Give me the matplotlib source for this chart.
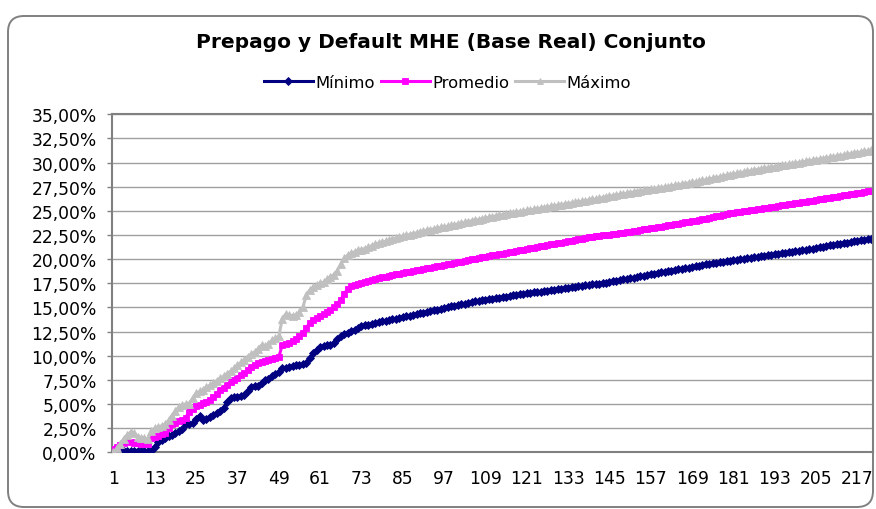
import matplotlib
matplotlib.use("Agg")
import matplotlib.pyplot as plt
from matplotlib.patches import FancyBboxPatch
from matplotlib.ticker import FixedLocator, FixedFormatter

title = "Prepago y Default MHE (Base Real) Conjunto"
series_names = ["Mínimo", "Promedio", "Máximo"]

# values in percent, periods 1..221
minimo = [
    0.00, 0.00, 0.05, 0.10, 0.12, 0.15, 0.15, 0.15, 0.15, 0.15,
    0.15, 0.15, 0.60, 1.10, 1.30, 1.50, 1.65, 1.80, 1.95, 2.20,
    2.40, 2.95, 2.90, 3.00, 3.50, 3.75, 3.30, 3.40, 3.70, 3.90,
    4.10, 4.30, 4.60, 5.20, 5.60, 5.75, 5.70, 5.80, 5.90, 6.30,
    6.80, 6.85, 6.90, 7.20, 7.50, 7.55, 7.90, 8.10, 8.30, 8.70,
    8.75, 8.85, 8.90, 9.00, 9.05, 9.10, 9.20, 9.80, 10.30, 10.60,
    10.90, 11.00, 11.10, 11.15, 11.30, 11.70, 12.00, 12.20, 12.40, 12.55,
    12.70, 12.90, 13.05, 13.15, 13.20, 13.30, 13.40, 13.45, 13.55, 13.60,
    13.70, 13.80, 13.85, 13.95, 14.00, 14.08, 14.15, 14.25, 14.30, 14.38,
    14.45, 14.55, 14.60, 14.70, 14.78, 14.85, 14.95, 15.02, 15.10, 15.18,
    15.25, 15.32, 15.40, 15.48, 15.55, 15.62, 15.70, 15.75, 15.80, 15.85,
    15.92, 15.98, 16.02, 16.08, 16.12, 16.18, 16.25, 16.30, 16.35, 16.40,
    16.45, 16.50, 16.55, 16.60, 16.65, 16.70, 16.72, 16.78, 16.82, 16.88,
    16.92, 16.98, 17.02, 17.08, 17.12, 17.18, 17.22, 17.28, 17.32, 17.38,
    17.42, 17.45, 17.52, 17.58, 17.65, 17.72, 17.78, 17.85, 17.90, 17.98,
    18.05, 18.10, 18.18, 18.25, 18.30, 18.38, 18.45, 18.50, 18.58, 18.62,
    18.68, 18.75, 18.82, 18.88, 18.95, 19.00, 19.08, 19.12, 19.20, 19.25,
    19.32, 19.38, 19.45, 19.50, 19.58, 19.62, 19.70, 19.75, 19.80, 19.85,
    19.90, 19.95, 20.00, 20.05, 20.10, 20.15, 20.20, 20.25, 20.30, 20.35,
    20.40, 20.45, 20.50, 20.55, 20.60, 20.65, 20.70, 20.75, 20.80, 20.85,
    20.92, 20.98, 21.05, 21.10, 21.18, 21.22, 21.30, 21.35, 21.42, 21.48,
    21.55, 21.60, 21.68, 21.72, 21.80, 21.85, 21.90, 21.95, 22.00, 22.05,
    22.10,
]

promedio = [
    0.30, 0.50, 0.75, 1.00, 1.20, 1.10, 1.00, 0.95, 0.90, 0.90,
    0.88, 1.50, 1.60, 1.70, 1.85, 2.05, 2.50, 2.90, 3.00, 3.20,
    3.35, 3.60, 4.20, 4.50, 4.75, 4.90, 5.10, 5.25, 5.45, 5.70,
    6.00, 6.40, 6.70, 7.00, 7.25, 7.45, 7.70, 8.00, 8.25, 8.55,
    8.80, 9.00, 9.20, 9.40, 9.50, 9.60, 9.70, 9.80, 9.85, 11.10,
    11.25, 11.35, 11.50, 11.70, 12.00, 12.40, 12.90, 13.40, 13.70, 13.90,
    14.10, 14.30, 14.50, 14.75, 15.00, 15.40, 15.80, 16.40, 16.90, 17.20,
    17.35, 17.45, 17.55, 17.65, 17.75, 17.85, 17.95, 18.05, 18.12, 18.20,
    18.28, 18.35, 18.42, 18.50, 18.58, 18.65, 18.72, 18.80, 18.85, 18.92,
    18.98, 19.05, 19.10, 19.18, 19.25, 19.30, 19.38, 19.45, 19.52, 19.60,
    19.68, 19.75, 19.82, 19.90, 19.98, 20.05, 20.12, 20.20, 20.25, 20.32,
    20.38, 20.45, 20.52, 20.58, 20.65, 20.72, 20.78, 20.85, 20.92, 20.98,
    21.05, 21.12, 21.18, 21.25, 21.32, 21.38, 21.45, 21.52, 21.58, 21.65,
    21.72, 21.78, 21.85, 21.92, 21.98, 22.05, 22.12, 22.18, 22.25, 22.32,
    22.38, 22.42, 22.48, 22.50, 22.55, 22.58, 22.63, 22.68, 22.73, 22.80,
    22.85, 22.90, 22.96, 23.02, 23.08, 23.14, 23.20, 23.26, 23.32, 23.38,
    23.44, 23.50, 23.56, 23.62, 23.68, 23.74, 23.80, 23.86, 23.92, 23.98,
    24.05, 24.12, 24.20, 24.27, 24.35, 24.42, 24.50, 24.58, 24.66, 24.74,
    24.80, 24.86, 24.92, 24.97, 25.02, 25.08, 25.13, 25.18, 25.24, 25.29,
    25.34, 25.40, 25.45, 25.50, 25.56, 25.61, 25.66, 25.72, 25.77, 25.82,
    25.88, 25.94, 26.00, 26.06, 26.12, 26.18, 26.24, 26.30, 26.36, 26.42,
    26.48, 26.54, 26.60, 26.66, 26.72, 26.78, 26.84, 26.90, 26.96, 27.02,
    27.08,
]

maximo = [
    0.00, 0.40, 0.90, 1.40, 1.80, 2.10, 2.00, 1.60, 1.50, 1.45,
    1.40, 2.20, 2.50, 2.60, 2.75, 2.90, 3.30, 3.80, 4.30, 4.70,
    4.90, 5.00, 5.05, 5.60, 6.10, 6.30, 6.50, 6.75, 6.95, 7.15,
    7.40, 7.65, 7.90, 8.15, 8.40, 8.70, 9.00, 9.30, 9.60, 9.90,
    10.15, 10.40, 10.70, 11.10, 11.00, 11.20, 11.60, 11.80, 12.00, 13.80,
    14.30, 14.20, 14.15, 14.20, 14.50, 15.00, 16.30, 16.80, 17.10, 17.30,
    17.50, 17.60, 17.90, 18.20, 18.40, 18.80, 19.50, 20.10, 20.40, 20.60,
    20.75, 20.90, 21.00, 21.10, 21.25, 21.40, 21.55, 21.65, 21.75, 21.85,
    21.95, 22.05, 22.15, 22.25, 22.35, 22.45, 22.55, 22.65, 22.72, 22.80,
    22.90, 22.98, 23.05, 23.12, 23.20, 23.28, 23.35, 23.42, 23.50, 23.55,
    23.65, 23.70, 23.80, 23.88, 23.95, 24.05, 24.10, 24.18, 24.25, 24.32,
    24.40, 24.48, 24.55, 24.62, 24.68, 24.74, 24.80, 24.86, 24.92, 24.98,
    25.05, 25.10, 25.16, 25.22, 25.28, 25.34, 25.40, 25.46, 25.52, 25.58,
    25.64, 25.70, 25.76, 25.82, 25.88, 25.94, 26.00, 26.06, 26.12, 26.18,
    26.25, 26.30, 26.38, 26.45, 26.50, 26.58, 26.62, 26.70, 26.75, 26.82,
    26.88, 26.95, 27.00, 27.08, 27.12, 27.20, 27.25, 27.30, 27.35, 27.40,
    27.46, 27.52, 27.58, 27.64, 27.70, 27.76, 27.82, 27.88, 27.94, 28.00,
    28.08, 28.15, 28.22, 28.30, 28.37, 28.44, 28.52, 28.60, 28.67, 28.74,
    28.82, 28.88, 28.95, 29.02, 29.08, 29.15, 29.22, 29.28, 29.35, 29.40,
    29.47, 29.52, 29.58, 29.64, 29.70, 29.76, 29.82, 29.88, 29.94, 30.00,
    30.06, 30.12, 30.18, 30.24, 30.30, 30.36, 30.42, 30.48, 30.54, 30.60,
    30.66, 30.72, 30.78, 30.84, 30.90, 30.96, 31.02, 31.08, 31.15, 31.22,
    31.30,
]

periods = list(range(1, len(minimo) + 1))
x_tick_labels = ["1", "13", "25", "37", "49", "61", "73", "85", "97", "109",
                 "121", "133", "145", "157", "169", "181", "193", "205", "217"]
y_tick_values = [0, 2.5, 5, 7.5, 10, 12.5, 15, 17.5, 20, 22.5, 25, 27.5, 30, 32.5, 35]
y_tick_labels = ["0,00%", "2,50%", "5,00%", "7,50%", "10,00%", "12,50%", "15,00%",
                 "17,50%", "20,00%", "22,50%", "25,00%", "27,50%", "30,00%",
                 "32,50%", "35,00%"]

W, H = 876, 510
fig = plt.figure(figsize=(W / 100, H / 100), dpi=100)
fig.patch.set_facecolor("white")

# chart area rounded border (pixel coordinates)
border = FancyBboxPatch((8, 2), 865, 491, boxstyle="round,pad=0,rounding_size=16",
                        transform=None, facecolor="none", edgecolor="#808080", linewidth=1.4)
fig.patches.append(border)

left, right, bottom, top = 111.7, 873.0, 453.3, 115.3
ax = fig.add_axes([left / W, 1 - bottom / H, (right - left) / W, (bottom - top) / H])
ax.set_facecolor("white")

styles = [
    dict(color="#000080", marker="D", markersize=4.2),
    dict(color="#FF00FF", marker="s", markersize=4.6),
    dict(color="#C0C0C0", marker="^", markersize=5.2),
]
for name, vals, st in zip(series_names, [minimo, promedio, maximo], styles):
    ax.plot(periods, vals, color=st["color"], linewidth=2.2, marker=st["marker"],
            markersize=st["markersize"], markerfacecolor=st["color"],
            markeredgecolor=st["color"], markeredgewidth=0.6, label=name, zorder=3)

ax.set_xlim(0.5, len(periods) + 0.5)
ax.set_ylim(0, 35)
ax.yaxis.set_major_locator(FixedLocator(y_tick_values))
ax.yaxis.set_major_formatter(FixedFormatter(y_tick_labels))
ax.xaxis.set_major_locator(FixedLocator([int(s) for s in x_tick_labels]))
ax.xaxis.set_major_formatter(FixedFormatter(x_tick_labels))
ax.grid(axis="y", color="#A0A0A0", linewidth=1.0, zorder=0)
ax.set_axisbelow(True)
for sp in ax.spines.values():
    sp.set_color("#808080")
    sp.set_linewidth(1.5)

ax.tick_params(axis="y", direction="out", length=3.3, width=1.0, color="#808080",
               pad=7.5, labelsize=12.3, labelcolor="black")
ax.tick_params(axis="x", length=0, pad=12, labelsize=12.3, labelcolor="black")

fig.text(451 / W, 1 - 42 / H, title, ha="center", va="center",
         fontsize=14.5, fontweight="bold", color="black")

leg = ax.legend(loc="center", bbox_to_anchor=(447.5 / W, 1 - 83 / H),
                bbox_transform=fig.transFigure, ncol=3, frameon=False,
                fontsize=11.8, handlelength=3.0, handletextpad=0.15,
                columnspacing=0.35, borderpad=0, markerscale=0.9)

fig.savefig("out.png", dpi=100, facecolor="white")
